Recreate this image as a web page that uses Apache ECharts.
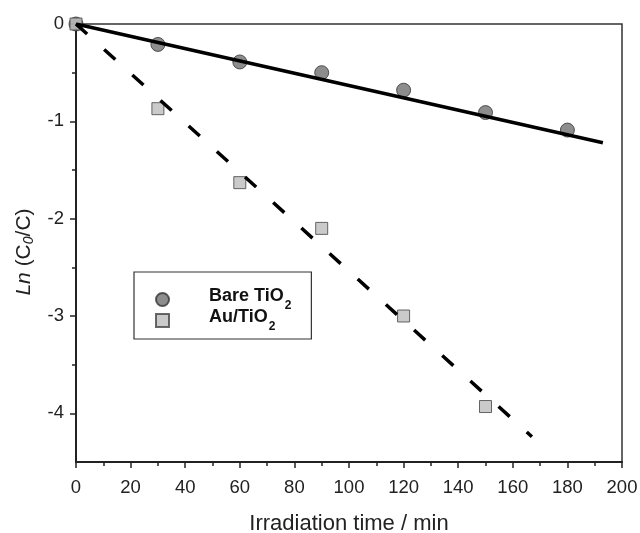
<!DOCTYPE html>
<html>
<head>
<meta charset="utf-8">
<script src="https://cdn.jsdelivr.net/npm/echarts@6/dist/echarts.min.js"></script>
<style>
html,body{margin:0;padding:0;background:#fff;}
#c{width:640px;height:533px;}
</style>
</head>
<body>
<div id="c"></div>
<script>
// ---- data ----
const timeX = [0, 30, 60, 90, 120, 150, 180];
const bareY = [0, -0.21, -0.39, -0.50, -0.68, -0.91, -1.09];
const auX = [0, 30, 60, 90, 120, 150];
const auY = [0, -0.87, -1.63, -2.10, -3.00, -3.93];
const fitBareX = [0, 193];
const fitBareY = [0, -1.22];
const fitAuX = [0, 167];
const fitAuY = [0, -4.24];
const yMajorTicks = [0, -1, -2, -3, -4];
const yMinorTicks = [-0.5, -1.5, -2.5, -3.5];
const seriesNames = ['Bare TiO2', 'Au/TiO2'];

const zip = (xs, ys) => xs.map((x, i) => [x, ys[i]]);

const FONT = 'Liberation Sans, Arial, sans-serif';
const chart = echarts.init(document.getElementById('c'), null, {renderer: 'canvas'});

const option = {
  backgroundColor: '#fff',
  animation: false,
  grid: {left: 76, top: 24, width: 546, height: 438, containLabel: false, outerBoundsMode: 'none',
         show: true, borderColor: '#333', borderWidth: 1.5, backgroundColor: 'transparent'},
  xAxis: {
    type: 'value', min: 0, max: 200, interval: 20,
    name: 'Irradiation time / min', nameLocation: 'middle', nameGap: 51,
    nameTextStyle: {fontFamily: FONT, fontSize: 22, color: '#222'},
    axisLine: {show: true, onZero: false, lineStyle: {color: '#222', width: 2}},
    axisTick: {show: true, inside: false, length: 6, lineStyle: {color: '#222', width: 1.5}},
    minorTick: {show: true, splitNumber: 2, length: 4, lineStyle: {color: '#222', width: 1.5}},
    axisLabel: {fontFamily: FONT, fontSize: 18.5, color: '#222', margin: 16},
    splitLine: {show: false}, minorSplitLine: {show: false}
  },
  yAxis: [{
    type: 'value', min: -4.5, max: 0,
    name: '{i|Ln} (C{s|0}/C)', nameLocation: 'middle', nameGap: 40, nameRotate: 90,
    nameTextStyle: {fontFamily: FONT, fontSize: 21, color: '#222', padding: [0, 18, 0, 0],
      rich: {i: {fontFamily: FONT, fontSize: 21, fontStyle: 'italic', color: '#222'},
             s: {fontFamily: FONT, fontSize: 14, fontStyle: 'italic', color: '#222', verticalAlign: 'bottom', padding: [9, 0, 0, 0]}}},
    axisLine: {show: true, onZero: false, lineStyle: {color: '#222', width: 2}},
    axisTick: {show: true, inside: false, length: 6, customValues: yMajorTicks, lineStyle: {color: '#222', width: 1.5}},
    axisLabel: {fontFamily: FONT, fontSize: 18.5, color: '#222', margin: 12, customValues: yMajorTicks},
    splitLine: {show: false}
  }, {
    type: 'value', min: -4.5, max: 0, position: 'left',
    axisLine: {show: false},
    axisTick: {show: true, inside: false, length: 4, customValues: yMinorTicks, lineStyle: {color: '#222', width: 1.5}},
    axisLabel: {show: false},
    splitLine: {show: false}
  }],
  legend: {
    orient: 'vertical', left: 134, top: 272,
    data: [{name: seriesNames[0], icon: 'circle'}, {name: seriesNames[1], icon: 'rect'}],
    itemWidth: 13, itemHeight: 13, itemGap: -4,
    padding: [15, 20, 6, 21],
    borderColor: '#333', borderWidth: 1.2,
    formatter: n => n === seriesNames[0] ? '{b|Bare TiO}{s|2}' : '{b|Au/TiO}{s|2}',
    textStyle: {fontFamily: FONT, padding: [0, 0, 0, 35],
      rich: {b: {fontFamily: FONT, fontSize: 18, fontWeight: 'bold', color: '#111', lineHeight: 18, verticalAlign: 'top'},
             s: {fontFamily: FONT, fontSize: 12, fontWeight: 'bold', color: '#111', verticalAlign: 'bottom', padding: [13, 0, 0, 1]}}}
  },
  series: [
    {name: seriesNames[0], type: 'scatter', data: zip(timeX, bareY), symbol: 'circle', symbolSize: 14, z: 2,
     itemStyle: {color: '#707070', borderColor: '#333', borderWidth: 1}},
    {name: seriesNames[1], type: 'scatter', data: zip(auX, auY), symbol: 'rect', symbolSize: 12, z: 2,
     itemStyle: {color: '#bdbdbd', borderColor: '#444', borderWidth: 1}},
    {name: 'fitBare', type: 'line', data: zip(fitBareX, fitBareY), symbol: 'none', silent: true, z: 3,
     lineStyle: {color: '#000', width: 3.5}},
    {name: 'fitAu', type: 'line', data: zip(fitAuX, fitAuY), symbol: 'none', silent: true, z: 3,
     lineStyle: {color: '#000', width: 3.5, type: [15, 23]}}
  ]
};
chart.setOption(option);
</script>
</body>
</html>
